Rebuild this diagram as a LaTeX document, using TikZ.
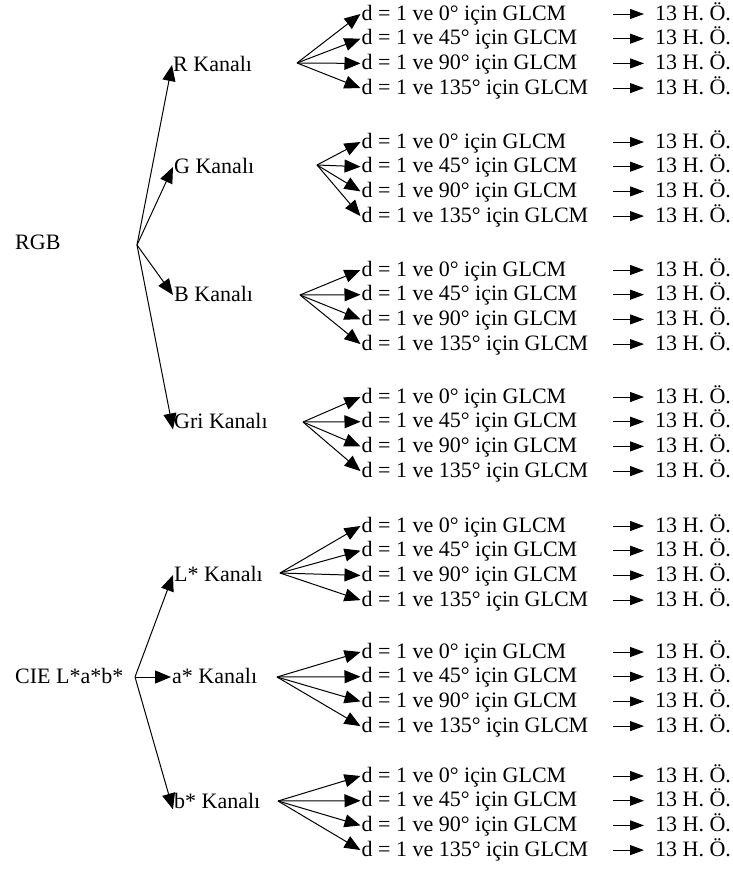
\documentclass[tikz,border=0pt]{standalone}
\usepackage{fontspec}
\setmainfont{Liberation Serif}
\usetikzlibrary{arrows.meta}

\tikzset{
  lbl/.style={anchor=west, inner sep=1pt, font=\fontsize{22}{24}\selectfont,
    text height=12.5pt, text depth=0pt},
  branch/.style={line width=1pt, -{Triangle[length=16pt,width=13pt]}},
  hoarrow/.style={line width=1pt, -{Triangle[length=14pt,width=10pt]}, shorten >=10pt},
}

\begin{document}
\begin{tikzpicture}[x=1pt,y=-1pt]
\useasboundingbox (0,0) rectangle (732,870);
% colour spaces
\node[lbl] (rgb) at (14,243) {RGB};
\node[lbl] (cie) at (14,677) {CIE L*a*b*};
\coordinate (rgbfork) at (137,245);
\coordinate (ciefork) at (135,677);
% channels
\node[lbl] (ch1) at (172,65) {R Kanalı};
\node[lbl] (ch2) at (173,167) {G Kanalı};
\node[lbl] (ch3) at (173,295) {B Kanalı};
\node[lbl] (ch4) at (173,422) {Gri Kanalı};
\node[lbl] (ch5) at (173,575) {L* Kanalı};
\node[lbl] (ch6) at (171,677) {a* Kanalı};
\node[lbl] (ch7) at (173,802) {b* Kanalı};
\draw[branch] (rgbfork) -- (ch1.west);
\draw[branch] (rgbfork) -- (ch2.west);
\draw[branch] (rgbfork) -- (ch3.west);
\draw[branch] (rgbfork) -- (ch4.south west);
\draw[branch] (ciefork) -- (ch5.west);
\draw[branch] (ciefork) -- (ch6.west);
\draw[branch] (ciefork) -- (ch7.south west);
% fan origins
\coordinate (f1) at (297,63);
\coordinate (f2) at (317,165);
\coordinate (f3) at (300,295);
\coordinate (f4) at (303,422);
\coordinate (f5) at (280,573);
\coordinate (f6) at (277,677);
\coordinate (f7) at (278,801);
% GLCM rows and features
\foreach \g/\y in {1/14,2/142,3/270,4/397,5/526,6/652,7/776}{
  \foreach \a [count=\r] in {0,45,90,135}{
    \node[lbl] (d\g\r) at ({360.5},{\y+24.7*(\r-1)}) {d = 1 ve \a° için GLCM};
    \node[lbl] (o\g\r) at ({654},{\y+24.7*(\r-1)}) {13 H. Ö.};
    \coordinate (s\g\r) at ({613},{\y+24.7*(\r-1)});
    \draw[branch] (f\g) -- (d\g\r.west);
    \draw[hoarrow] (s\g\r) -- (o\g\r.west);
  }
}
\end{tikzpicture}
\end{document}
